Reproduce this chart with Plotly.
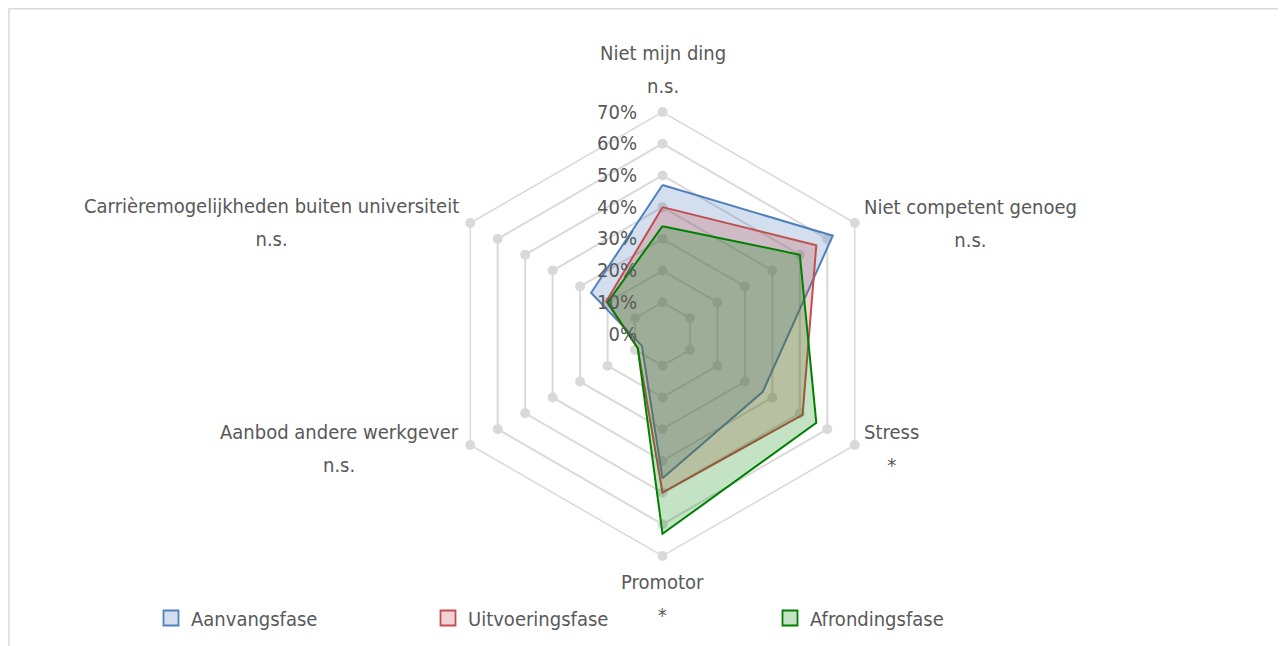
import math
import plotly.graph_objects as go

categories = ["Niet mijn ding", "Niet competent genoeg", "Stress", "Promotor",
              "Aanbod andere werkgever", "Carrièremogelijkheden buiten universiteit"]
significance = ["n.s.", "n.s.", "*", "*", "n.s.", "n.s."]

aanvangsfase = [47, 62, 36.5, 45.5, 7.5, 26]
uitvoeringsfase = [40, 56, 51, 50, 9, 20.5]
afrondingsfase = [34, 50, 56, 63, 9, 20]

series_names = ["Aanvangsfase", "Uitvoeringsfase", "Afrondingsfase"]
series_values = [aanvangsfase, uitvoeringsfase, afrondingsfase]
line_colors = ["#4F81BD", "#C0504D", "#008000"]
fill_colors = ["rgba(79,129,189,0.25)", "rgba(192,80,77,0.25)", "rgba(0,128,0,0.23)"]
legend_fill = ["#D3DFEE", "#EFD3D2", "#C4E2C4"]

radial_ticks = [0, 10, 20, 30, 40, 50, 60, 70]
radial_labels = ["0%", "10%", "20%", "30%", "40%", "50%", "60%", "70%"]

W, H = 1286, 646
OFF = 8  # page body margin
FONT = "DejaVu Sans Condensed, Liberation Sans Narrow, sans-serif"
FS = 20
TXT = "#595959"
GRID = "#D9D9D9"

# polar placement (pixels, reference screen coords minus page offset)
CX, CY, R = 662.5 - OFF, 334 - OFF, 222
dom_x = [(CX - R) / W, (CX + R) / W]
dom_y = [1 - (CY + R) / H, 1 - (CY - R) / H]

fig = go.Figure()

# gridline vertex dots
dot_r, dot_t = [], []
for v in radial_ticks[1:]:
    for c in categories:
        dot_r.append(v)
        dot_t.append(c)
fig.add_trace(go.Scatterpolar(r=dot_r, theta=dot_t, mode="markers",
                              marker=dict(color=GRID, size=10),
                              showlegend=False, hoverinfo="skip"))

legend_ids = ["legend", "legend2", "legend3"]
for name, vals, lc, fc in zip(series_names, series_values, line_colors, fill_colors):
    fig.add_trace(go.Scatterpolar(
        r=vals + [vals[0]], theta=categories + [categories[0]],
        mode="lines", fill="toself", fillcolor=fc,
        line=dict(color=lc, width=2), name=name, showlegend=False))

for name, lc, lf, lg in zip(series_names, line_colors, legend_fill, legend_ids):
    fig.add_trace(go.Scatterpolar(
        r=[None], theta=[None], mode="markers", name=name, legend=lg,
        marker=dict(symbol="square", size=15, color=lf, line=dict(color=lc, width=1.8))))

LINE_FS = 25.4  # gives ~33px line spacing
annotations = []
for i, (cat, sig) in enumerate(zip(categories, significance)):
    ang = math.radians(90 - 60 * i)
    px = CX + R * math.cos(ang)
    py = CY - R * math.sin(ang)
    txt = (f"<span style='font-size:{FS}px'>{cat}</span><br>"
           f"<span style='font-size:{FS}px'>{sig}</span>")
    a = dict(x=px / W, y=1 - py / H, xref="paper", yref="paper", showarrow=False,
             text=txt, align="center",
             font=dict(family=FONT, size=LINE_FS, color=TXT))
    if i == 0:
        a.update(xanchor="center", yanchor="bottom", yshift=12)
    elif i == 3:
        a.update(xanchor="center", yanchor="top", yshift=-12)
    elif i in (1, 2):
        a.update(xanchor="left", yanchor="middle", xshift=7, yshift=(-3 if i == 2 else 0))
    else:
        a.update(xanchor="right", yanchor="middle", xshift=-9, yshift=(-3 if i == 4 else 0))
    annotations.append(a)

leg_common = dict(yanchor="middle", xanchor="left", orientation="h",
                  font=dict(family=FONT, size=FS, color=TXT), bgcolor="rgba(0,0,0,0)")
LEG_Y = 1 - (618 - OFF) / H

fig.update_layout(
    width=W, height=H,
    margin=dict(l=0, r=0, t=0, b=0),
    paper_bgcolor="white",
    font=dict(family=FONT, size=FS, color=TXT),
    polar=dict(
        domain=dict(x=dom_x, y=dom_y),
        bgcolor="rgba(0,0,0,0)",
        gridshape="linear",
        radialaxis=dict(range=[0, 70], tickmode="array", tickvals=radial_ticks,
                        ticktext=radial_labels,
                        angle=90, side="counterclockwise", showline=False,
                        tickangle=90,
                        ticks="outside", ticklen=18, tickcolor="rgba(0,0,0,0)",
                        gridcolor=GRID, gridwidth=1.5,
                        tickfont=dict(family=FONT, size=FS, color=TXT)),
        angularaxis=dict(direction="clockwise", rotation=90, showgrid=False,
                         showticklabels=False, ticks="",
                         showline=True, linecolor=GRID, linewidth=1.5),
    ),
    annotations=annotations,
    shapes=[dict(type="rect", xref="paper", yref="paper",
                 x0=(9 - OFF) / W, x1=1.01, y0=-0.01, y1=1 - (8 - OFF) / H - 0.001,
                 line=dict(color=GRID, width=1.5), layer="below")],
    legend=dict(x=(151 - OFF) / W, y=LEG_Y, **leg_common),
    legend2=dict(x=(428 - OFF) / W, y=LEG_Y, **leg_common),
    legend3=dict(x=(770 - OFF) / W, y=LEG_Y, **leg_common),
)

fig.write_html("out.html")
